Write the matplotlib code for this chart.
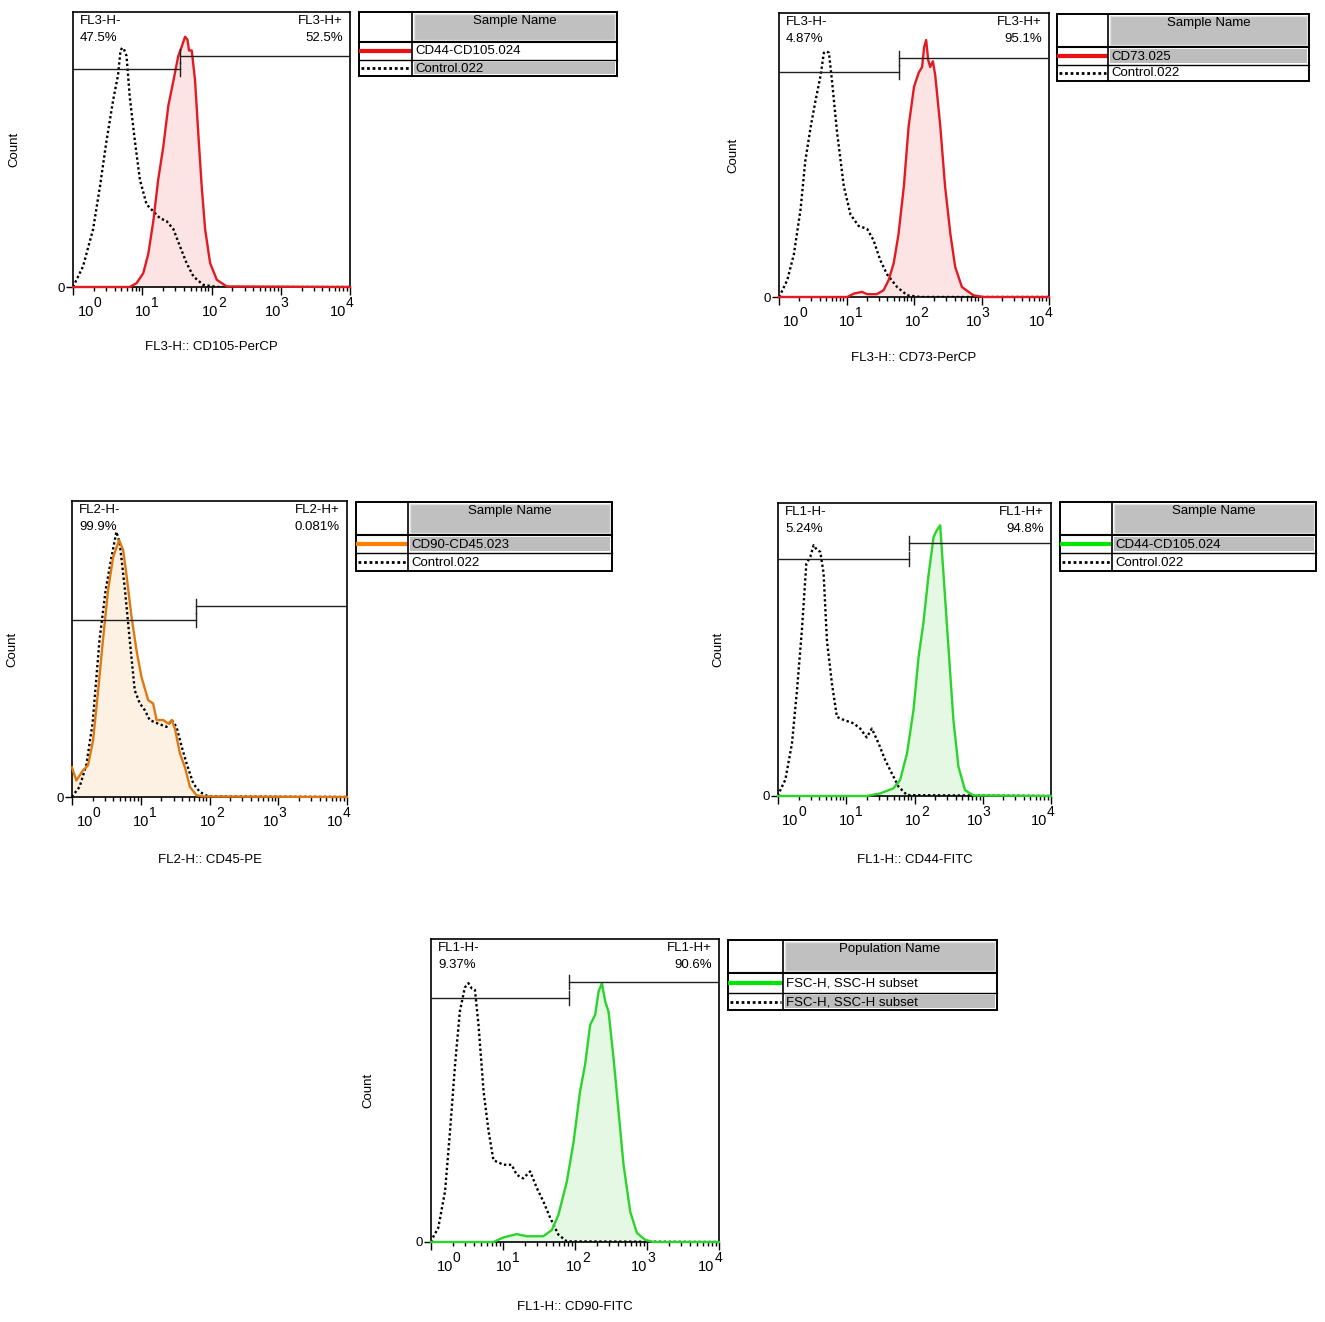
import numpy as np
import matplotlib
matplotlib.use("Agg")
import matplotlib.pyplot as plt
from matplotlib.patches import Rectangle
from matplotlib.ticker import LogLocator, NullFormatter

plt.rcParams['font.family'] = ['Liberation Sans', 'DejaVu Sans']

W, H = 1325, 1322
PT = 0.72  # points per pixel at dpi 100

# x in decades (log10 of intensity), y = count relative to axis height
# panel 1 - CD105
p1_ctrl_dec = [0.0, 0.01, 0.145, 0.29, 0.386, 0.483, 0.58, 0.65, 0.686, 0.71, 0.735, 0.773, 0.82,
               0.894, 0.966, 1.063, 1.18, 1.256, 1.35, 1.45, 1.546, 1.64, 1.74, 1.88, 2.08, 4.0]
p1_ctrl_cnt = [0.0, 0.005, 0.075, 0.21, 0.36, 0.53, 0.68, 0.77, 0.86, 0.87, 0.865, 0.84, 0.69,
               0.53, 0.39, 0.30, 0.27, 0.25, 0.24, 0.21, 0.147, 0.087, 0.038, 0.008, 0.0, 0.0]
p1_samp_dec = [0.0, 0.82, 0.918, 1.014, 1.087, 1.16, 1.23, 1.304, 1.377, 1.45, 1.52, 1.57, 1.618,
               1.652, 1.676, 1.715, 1.763, 1.81, 1.86, 1.908, 1.98, 2.077, 2.22, 4.0]
p1_samp_cnt = [0.0, 0.0, 0.014, 0.05, 0.12, 0.24, 0.39, 0.51, 0.66, 0.75, 0.84, 0.874, 0.91,
               0.90, 0.86, 0.86, 0.75, 0.555, 0.36, 0.21, 0.087, 0.026, 0.002, 0.0]

# panel 2 - CD73
p2_ctrl_dec = [0.0, 0.015, 0.123, 0.22, 0.32, 0.39, 0.47, 0.54, 0.616, 0.665, 0.70, 0.74, 0.79,
               0.86, 0.96, 1.06, 1.18, 1.305, 1.40, 1.50, 1.60, 1.75, 1.90, 2.09, 4.0]
p2_ctrl_cnt = [0.0, 0.006, 0.06, 0.15, 0.31, 0.48, 0.60, 0.69, 0.78, 0.86, 0.865, 0.86, 0.75,
               0.58, 0.39, 0.29, 0.25, 0.24, 0.20, 0.13, 0.08, 0.035, 0.006, 0.0, 0.0]
p2_samp_dec = [0.0, 1.01, 1.11, 1.23, 1.305, 1.45, 1.55, 1.625, 1.70, 1.77, 1.85, 1.92, 2.0, 2.07,
               2.12, 2.15, 2.18, 2.21, 2.24, 2.28, 2.315, 2.39, 2.46, 2.54, 2.61, 2.71, 2.88, 3.03, 4.0]
p2_samp_cnt = [0.0, 0.0, 0.012, 0.018, 0.01, 0.01, 0.024, 0.06, 0.12, 0.22, 0.39, 0.60, 0.74, 0.79,
               0.81, 0.88, 0.905, 0.835, 0.81, 0.83, 0.78, 0.60, 0.39, 0.22, 0.106, 0.035, 0.006, 0.0, 0.0]

# panel 3 - CD45
p3_ctrl_dec = [0.0, 0.015, 0.11, 0.21, 0.30, 0.40, 0.49, 0.574, 0.646, 0.695, 0.77, 0.84, 0.913,
               0.987, 1.06, 1.13, 1.25, 1.375, 1.45, 1.52, 1.595, 1.667, 1.765, 1.86, 1.98, 4.0]
p3_ctrl_cnt = [0.0, 0.006, 0.034, 0.11, 0.25, 0.53, 0.70, 0.81, 0.896, 0.857, 0.70, 0.53, 0.36,
               0.316, 0.293, 0.26, 0.248, 0.237, 0.26, 0.237, 0.17, 0.113, 0.045, 0.017, 0.002, 0.0]
p3_samp_dec = [0.0, 0.063, 0.16, 0.233, 0.306, 0.38, 0.45, 0.525, 0.598, 0.685, 0.744, 0.79, 0.865,
               0.938, 1.01, 1.108, 1.18, 1.23, 1.327, 1.40, 1.45, 1.497, 1.57, 1.643, 1.716, 1.81,
               1.91, 4.0]
p3_samp_cnt = [0.10, 0.056, 0.09, 0.107, 0.19, 0.36, 0.53, 0.70, 0.81, 0.868, 0.834, 0.755, 0.61,
               0.496, 0.406, 0.327, 0.316, 0.26, 0.26, 0.248, 0.26, 0.231, 0.147, 0.10, 0.034, 0.006,
               0.002, 0.0]

# panel 4 - CD44
p4_ctrl_dec = [0.0, 0.01, 0.107, 0.205, 0.278, 0.35, 0.415, 0.473, 0.522, 0.57, 0.62, 0.668, 0.717,
               0.79, 0.863, 0.96, 1.107, 1.205, 1.30, 1.375, 1.473, 1.57, 1.668, 1.766, 1.89, 4.0]
p4_ctrl_cnt = [0.0, 0.009, 0.055, 0.18, 0.36, 0.566, 0.793, 0.816, 0.856, 0.84, 0.833, 0.76, 0.53,
               0.384, 0.27, 0.26, 0.248, 0.23, 0.20, 0.23, 0.18, 0.123, 0.077, 0.032, 0.003, 0.0]
p4_samp_dec = [0.0, 1.30, 1.50, 1.69, 1.79, 1.89, 1.985, 2.06, 2.13, 2.205, 2.28, 2.327, 2.376,
               2.424, 2.50, 2.57, 2.644, 2.74, 2.863, 4.0]
p4_samp_cnt = [0.0, 0.0, 0.009, 0.026, 0.055, 0.145, 0.293, 0.475, 0.59, 0.753, 0.884, 0.907, 0.924,
               0.76, 0.498, 0.26, 0.10, 0.02, 0.002, 0.0]

# panel 5 - CD90
p5_ctrl_dec = [0.0, 0.01, 0.10, 0.195, 0.264, 0.334, 0.40, 0.47, 0.52, 0.565, 0.61, 0.66, 0.73, 0.80,
               0.867, 1.006, 1.12, 1.19, 1.28, 1.377, 1.47, 1.56, 1.655, 1.77, 1.887, 4.0]
p5_ctrl_cnt = [0.0, 0.008, 0.046, 0.167, 0.365, 0.585, 0.76, 0.84, 0.854, 0.837, 0.832, 0.716, 0.497,
               0.365, 0.27, 0.255, 0.255, 0.222, 0.21, 0.233, 0.178, 0.134, 0.08, 0.024, 0.002, 0.0]
p5_samp_dec = [0.0, 0.867, 1.006, 1.19, 1.33, 1.56, 1.68, 1.77, 1.887, 1.98, 2.07, 2.14, 2.21, 2.28,
               2.327, 2.373, 2.42, 2.466, 2.535, 2.605, 2.674, 2.767, 2.86, 2.975, 3.09, 4.0]
p5_samp_cnt = [0.0, 0.0, 0.015, 0.026, 0.019, 0.019, 0.04, 0.09, 0.2, 0.33, 0.497, 0.585, 0.716, 0.75,
               0.826, 0.854, 0.794, 0.76, 0.607, 0.43, 0.255, 0.10, 0.03, 0.007, 0.0, 0.0]

# gates: boundary (decades), height of negative bar, height of positive bar
gate_dec = [1.545, 1.78, 1.80, 1.92, 1.92]
gate_neg_y = [0.793, 0.792, 0.598, 0.809, 0.805]
gate_pos_y = [0.84, 0.84, 0.645, 0.863, 0.858]
channels = ['FL3-H', 'FL3-H', 'FL2-H', 'FL1-H', 'FL1-H']
pct_neg = ['47.5%', '4.87%', '99.9%', '5.24%', '9.37%']
pct_pos = ['52.5%', '95.1%', '0.081%', '94.8%', '90.6%']
xlabels = ['FL3-H:: CD105-PerCP', 'FL3-H:: CD73-PerCP', 'FL2-H:: CD45-PE',
           'FL1-H:: CD44-FITC', 'FL1-H:: CD90-FITC']
tick_vals = [1, 10, 100, 1000, 10000]
tick_exp = ['0', '1', '2', '3', '4']

legend_titles = ['Sample Name', 'Sample Name', 'Sample Name', 'Sample Name', 'Population Name']
legend_names = [['CD44-CD105.024', 'Control.022'],
                ['CD73.025', 'Control.022'],
                ['CD90-CD45.023', 'Control.022'],
                ['CD44-CD105.024', 'Control.022'],
                ['FSC-H, SSC-H subset', 'FSC-H, SSC-H subset']]
legend_shaded = [1, 0, 0, 0, 1]

line_cols = ['#e31a22', '#e31a22', '#e07812', '#2bd42b', '#2bd42b']
leg_cols = ['#ee1010', '#ee1010', '#ff7f00', '#00e600', '#00e600']
fill_cols = ['#fde4e4', '#fde4e4', '#fdf1e4', '#e4f8e4', '#e4f8e4']

# layout in pixels: (left, top, right, bottom)
ax_boxes = [(73, 12, 350, 287), (779, 13, 1049, 297), (72, 501, 347, 797),
            (778, 503, 1051, 796), (431, 939, 719, 1242)]
count_off = [59, 46, 60, 60, 63]
xlab_off = [60, 61, 63, 64, 65]
# where the "10" of each decade label ends (axes fraction)
lab_pos = [0.076, 0.282, 0.525, 0.752, 0.985]
# legend: left, top, right, bottom, column split, header bottom, row divider
leg_boxes = [(359, 12, 617, 76, 412, 42, 60),
             (1057, 14, 1309, 81, 1108, 47, 65),
             (356, 502, 612, 571, 408, 535, 553),
             (1060, 502, 1316, 571, 1112, 535, 553),
             (728, 940, 997, 1010, 783, 973, 993)]

fig = plt.figure(figsize=(W / 100, H / 100), dpi=100)


def px_axes(l, t, r, b):
    return fig.add_axes([l / W, 1 - b / H, (r - l) / W, (b - t) / H])


def hist_panel(i, ctrl_dec, ctrl_cnt, samp_dec, samp_cnt):
    ax = px_axes(*ax_boxes[i])
    cx = 10 ** np.array(ctrl_dec)
    sx = 10 ** np.array(samp_dec)
    ax.fill_between(sx, samp_cnt, color=fill_cols[i], lw=0, zorder=1)
    ax.plot(cx, ctrl_cnt, color='black', ls=(0, (1, 1.1)), lw=1.7, zorder=2)
    ax.plot(sx, samp_cnt, color=line_cols[i], lw=1.7, zorder=3, clip_on=False)
    ax.set_xscale('log')
    ax.set_xlim(1, 1e4)
    ax.set_ylim(0, 1)
    ax.set_xticks(tick_vals)
    ax.set_xticklabels([])
    ax.xaxis.set_minor_locator(LogLocator(base=10, subs=range(2, 10)))
    ax.xaxis.set_minor_formatter(NullFormatter())
    ax.tick_params(axis='x', which='major', length=6, width=1)
    ax.tick_params(axis='x', which='minor', length=3, width=1)
    ax.set_yticks([0])
    ax.set_yticklabels(['0'])
    ax.tick_params(axis='y', length=5, width=1, labelsize=9.5, pad=1)
    for s in ax.spines.values():
        s.set_linewidth(1.2)
        s.set_zorder(2.5)

    for k, e in enumerate(tick_exp):
        ax.annotate('10', xy=(lab_pos[k], 0), xycoords='axes fraction',
                    xytext=(0, -25 * PT), textcoords='offset points',
                    ha='right', va='center', fontsize=10.5)
        ax.annotate(e, xy=(lab_pos[k], 0), xycoords='axes fraction',
                    xytext=(-0.3, -16 * PT), textcoords='offset points',
                    ha='left', va='center', fontsize=10)
    ax.annotate(xlabels[i], xy=(0.5, 0), xycoords='axes fraction',
                xytext=(0, -xlab_off[i] * PT), textcoords='offset points',
                ha='center', va='center', fontsize=9.5)
    ax.annotate('Count', xy=(0, 0.5), xycoords='axes fraction',
                xytext=(-count_off[i] * PT, 0), textcoords='offset points',
                ha='center', va='center', rotation=90, fontsize=9.5)

    # gates
    g = 10 ** gate_dec[i]
    lo, hi = gate_neg_y[i], gate_pos_y[i]
    cap = 7.0 / (ax_boxes[i][3] - ax_boxes[i][1])
    ax.plot([1, g], [lo, lo], color='#202020', lw=1, zorder=4)
    ax.plot([g, 1e4], [hi, hi], color='#202020', lw=1, zorder=4)
    ax.plot([g, g], [lo - cap, lo + cap], color='#202020', lw=1, zorder=4)
    ax.plot([g, g], [hi - cap, hi + cap], color='#202020', lw=1, zorder=4)
    ax.annotate(channels[i] + '-\n' + pct_neg[i], xy=(0, 1), xycoords='axes fraction',
                xytext=(5, -2), textcoords='offset points', ha='left', va='top',
                fontsize=9.5, linespacing=1.6)
    ax.annotate(channels[i] + '+\n' + pct_pos[i], xy=(1, 1), xycoords='axes fraction',
                xytext=(-5, -2), textcoords='offset points', ha='right', va='top',
                fontsize=9.5, linespacing=1.6, multialignment='right')


def legend_table(i):
    l, t, r, b, col, hdr, div = leg_boxes[i]
    lax = px_axes(l, t, r, b)
    lax.set_xlim(l, r)
    lax.set_ylim(b, t)
    lax.axis('off')
    lax.add_patch(Rectangle((col + 2, t + 2), r - col - 4, hdr - t - 4,
                            fc='#c0c0c0', ec='#e2e2e2', lw=1, clip_on=False))
    lax.text((col + r) / 2, t + 3, legend_titles[i], ha='center', va='top', fontsize=9.5)
    rows = [(hdr, div), (div, b)]
    sh = rows[legend_shaded[i]]
    lax.add_patch(Rectangle((col + 2, sh[0] + 2), r - col - 4, sh[1] - sh[0] - 4,
                            fc='#bdbdbd', ec='none', clip_on=False))
    for k, (rt, rb) in enumerate(rows):
        lax.text(col + 3, (rt + rb) / 2 + 0.5, legend_names[i][k], ha='left', va='center',
                 fontsize=9.5)
    y0 = sum(rows[0]) / 2
    y1 = sum(rows[1]) / 2
    lax.plot([l, col], [y0, y0], color=leg_cols[i], lw=3, solid_capstyle='butt', clip_on=False)
    lax.plot([l + 2, col - 2], [y1, y1], color='black', lw=2, ls=(0, (1, 1)), clip_on=False)
    lax.add_patch(Rectangle((l, t), r - l, b - t, fill=False, ec='black', lw=1.4, clip_on=False))
    lax.plot([col, col], [t, b], color='black', lw=1.2, clip_on=False)
    lax.plot([l, r], [hdr, hdr], color='black', lw=1.5, clip_on=False)
    lax.plot([l, r], [div, div], color='black', lw=1, clip_on=False)


hist_panel(0, p1_ctrl_dec, p1_ctrl_cnt, p1_samp_dec, p1_samp_cnt)
hist_panel(1, p2_ctrl_dec, p2_ctrl_cnt, p2_samp_dec, p2_samp_cnt)
hist_panel(2, p3_ctrl_dec, p3_ctrl_cnt, p3_samp_dec, p3_samp_cnt)
hist_panel(3, p4_ctrl_dec, p4_ctrl_cnt, p4_samp_dec, p4_samp_cnt)
hist_panel(4, p5_ctrl_dec, p5_ctrl_cnt, p5_samp_dec, p5_samp_cnt)
for i in range(5):
    legend_table(i)

fig.savefig('out.png', dpi=100)
